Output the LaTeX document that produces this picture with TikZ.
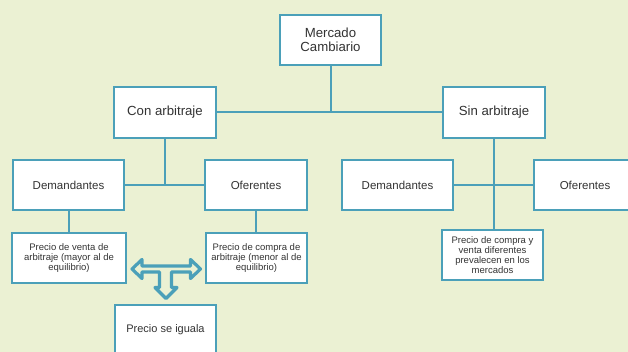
\documentclass[tikz,border=0pt]{standalone}
\usepackage{fontspec}
\setmainfont{Liberation Sans}
\definecolor{tealline}{RGB}{75,160,185}
\definecolor{bgcol}{RGB}{235,241,211}
\definecolor{txtcol}{RGB}{51,51,51}
\begin{document}
\begin{tikzpicture}[x=1pt,y=-1pt,
  box/.style={draw=tealline, line width=1.8pt, fill=white, inner sep=0pt, align=center, text=txtcol},
  big/.style={font=\fontsize{13.2}{13.6}\selectfont},
  mid/.style={font=\fontsize{11.5}{12}\selectfont},
  small/.style={font=\fontsize{9.5}{10.2}\selectfont},
  conn/.style={draw=tealline, line width=2pt}]
\clip (0,0) rectangle (628,352);
\fill[bgcol] (0,0) rectangle (628,352);
% boxes
\node[box, big, minimum width=101.5pt, minimum height=50.2pt] (mc) at (330.5,40) {Mercado\\Cambiario};
\node[box, big, minimum width=102.2pt, minimum height=51.2pt] (con) at (165,112.5) {Con arbitraje};
\node[box, big, minimum width=102.2pt, minimum height=51.2pt] (sin) at (494,112.5) {Sin arbitraje};
\node[box, mid, minimum width=111.2pt, minimum height=50.2pt] (demL) at (68.5,185) {Demandantes};
\node[box, mid, minimum width=102.2pt, minimum height=50.2pt] (ofL) at (256,185) {Oferentes};
\node[box, mid, minimum width=111.2pt, minimum height=50.2pt] (demR) at (397.5,185) {Demandantes};
\node[box, mid, minimum width=102.2pt, minimum height=50.2pt] (ofR) at (585,185) {Oferentes};
\node[box, small, minimum width=114.2pt, minimum height=50.2pt] (pv) at (69,258) {Precio de venta de\\arbitraje (mayor al de\\equilibrio)};
\node[box, small, minimum width=101.2pt, minimum height=50.2pt] (pc) at (256.5,258) {Precio de compra de\\arbitraje (menor al de\\equilibrio)};
\node[box, small, minimum width=101.7pt, minimum height=50.2pt] (pcv) at (492.5,255) {Precio de compra y\\venta diferentes\\prevalecen en los\\mercados};
\node[box, font=\fontsize{11}{12}\selectfont, minimum width=101.2pt, minimum height=50.2pt] (psi) at (165.5,330) {Precio se iguala};
% connectors
\draw[conn] (mc.south) -- (mc.south |- con.east);
\draw[conn] (con.east) -- (sin.west);
\draw[conn] (con.south) -- (con.south |- demL.east);
\draw[conn] (demL.east) -- (ofL.west);
\draw[conn] (demR.east) -- (ofR.west);
\draw[conn] (sin.south) -- (sin.south |- pcv.north);
\draw[conn] (demL.south) -- (demL.south |- pv.north);
\draw[conn] (ofL.south) -- (ofL.south |- pc.north);
% T-shaped block arrow
\draw[tealline, line width=3.2pt, fill=bgcol, line join=round]
  (132,269) -- (142,259.5) -- (142,266) -- (190.5,266) -- (190.5,259.5) -- (200.5,269)
  -- (190.5,278.5) -- (190.5,272) -- (171.5,272) -- (171.5,287.5) -- (177,287.5) -- (166,298.5)
  -- (155,287.5) -- (159.5,287.5) -- (159.5,272) -- (142,272) -- (142,278.5) -- cycle;
\end{tikzpicture}
\end{document}
